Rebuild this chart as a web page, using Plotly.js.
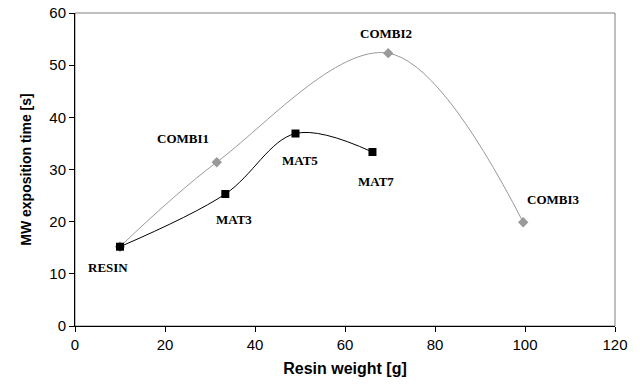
<!DOCTYPE html>
<html>
<head>
<meta charset="utf-8">
<script src="https://cdn.plot.ly/plotly-3.0.1.min.js"></script>
<style>html,body{margin:0;padding:0;background:#fff;}#chart{width:640px;height:385px;}</style>
</head>
<body>
<div id="chart"></div>
<script>
// Series "COMBI" (grey diamonds)
const combiNames = ["", "COMBI1", "COMBI2", "COMBI3"];
const combiX = [10, 31.5, 69.6, 99.6];
const combiY = [15.2, 31.4, 52.3, 19.9];
// Series "MAT" (black squares)
const matNames = ["RESIN", "MAT3", "MAT5", "MAT7"];
const matX = [10, 33.4, 49.0, 66.1];
const matY = [15.2, 25.3, 36.9, 33.35];

const xTicks = [0, 20, 40, 60, 80, 100, 120];
const yTicks = [0, 10, 20, 30, 40, 50, 60];

// label offsets (pixels) relative to each point
const combiShift = [null, [-34, 24], [-2, 20], [30, 23]];
const matShift = [[-12, -21], [9, -25], [4, -27], [4, -29]];

const annotations = [];
function addLabels(names, xs, ys, shifts) {
  names.forEach((n, i) => {
    if (!n) return;
    annotations.push({
      x: xs[i], y: ys[i], xref: 'x', yref: 'y', text: '<b>' + n + '</b>', showarrow: false,
      xshift: shifts[i][0], yshift: shifts[i][1],
      font: {family: '"Liberation Serif", "Times New Roman", serif', size: 13, color: '#000'}
    });
  });
}
addLabels(combiNames, combiX, combiY, combiShift);
addLabels(matNames, matX, matY, matShift);

const traces = [
  {x: combiX, y: combiY, type: 'scatter', mode: 'lines+markers',
   line: {shape: 'spline', smoothing: 1, color: '#999999', width: 1},
   marker: {symbol: 'diamond', size: 8, color: '#999999'}, hoverinfo: 'x+y'},
  {x: matX, y: matY, type: 'scatter', mode: 'lines+markers',
   line: {shape: 'spline', smoothing: 1, color: '#000000', width: 1},
   marker: {symbol: 'square', size: 8, color: '#000000'}, hoverinfo: 'x+y'}
];

const layout = {
  width: 640, height: 385,
  margin: {l: 75, r: 25, t: 13, b: 59},
  paper_bgcolor: '#fff', plot_bgcolor: '#fff',
  showlegend: false,
  font: {family: 'Arial, "Liberation Sans", sans-serif', size: 15, color: '#000'},
  xaxis: {
    range: [0, 120], tickvals: xTicks, ticktext: xTicks.map(String),
    showgrid: false, zeroline: false, showline: true, linecolor: '#000', linewidth: 1,
    ticks: 'outside', ticklen: 5, tickcolor: '#000', tickfont: {size: 15},
    title: {text: '<b>Resin weight [g]</b>', font: {size: 16}, standoff: 10}
  },
  yaxis: {
    range: [0, 60], tickvals: yTicks, ticktext: yTicks.map(String),
    showgrid: false, zeroline: false, showline: true, linecolor: '#000', linewidth: 1,
    ticks: 'outside', ticklen: 5, tickcolor: '#000', tickfont: {size: 15},
    title: {text: '<b>MW exposition time [s]</b>', font: {size: 14}, standoff: 14}
  },
  shapes: [{type: 'rect', xref: 'paper', yref: 'paper', x0: 0, x1: 1, y0: 0, y1: 1,
            line: {color: '#808080', width: 1}, layer: 'below'}],
  annotations: annotations
};

Plotly.newPlot('chart', traces, layout, {displayModeBar: false, staticPlot: true});
</script>
</body>
</html>
